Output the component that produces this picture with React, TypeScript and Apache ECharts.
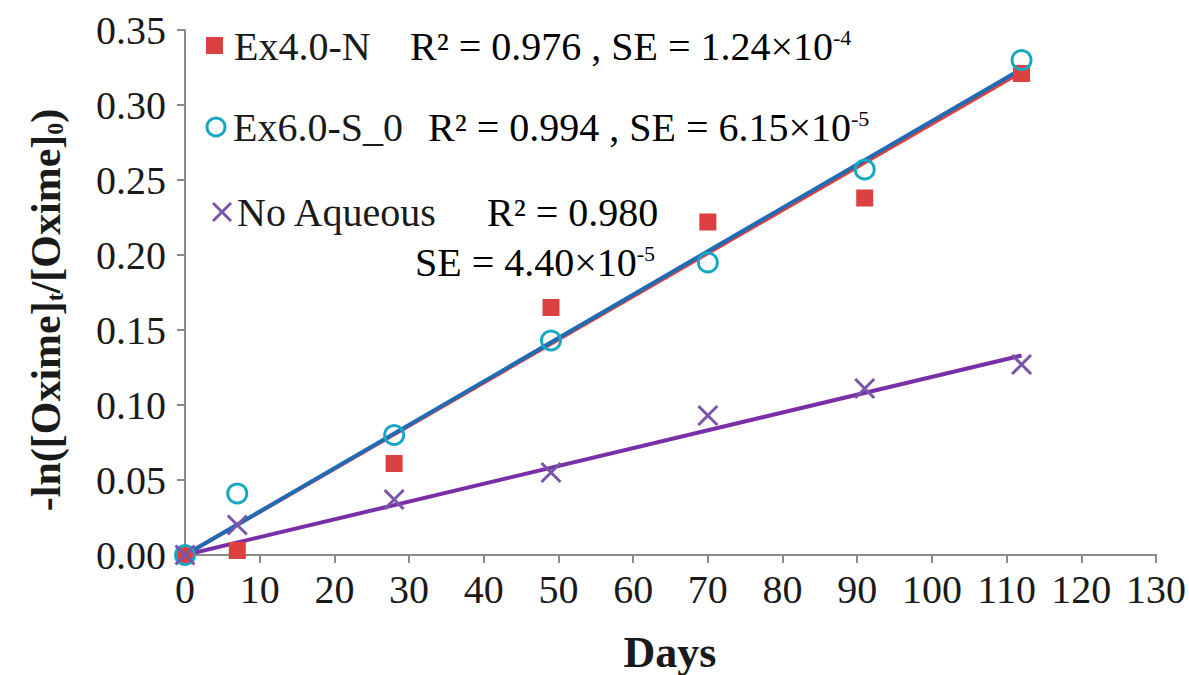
import React, { useEffect, useRef } from "react";
import * as echarts from "echarts";

const xTicks = [0, 130, 10];
const yTicks = [0, 0.35, 0.05];
const days = [0, 7, 28, 49, 70, 91, 112];
const ex4N = [0, 0.003, 0.061, 0.165, 0.222, 0.238, 0.321];
const ex6S0 = [0, 0.041, 0.08, 0.143, 0.195, 0.257, 0.33];
const noAqueous = [0, 0.02, 0.037, 0.055, 0.093, 0.111, 0.127];
const trendDays = [0, 112];
const trendEx4N = [0, 0.322];
const trendEx6S0 = [0, 0.324];
const trendNoAq = [0, 0.133];

const FONT = "'Liberation Serif', 'Times New Roman', serif";
const RED = "#dd4040";
const CYAN = "#19a8c4";
const PURPLE_X = "#7a56a8";
const BLUE = "#1f6cb4";
const PURPLE_L = "#7a2fa6";
const TXT = "#1a1a1a";

const pair = (xs: number[], ys: number[]) => xs.map((x, i) => [x, ys[i]]);

export default function App() {
  const ref = useRef<HTMLDivElement>(null);
  useEffect(() => {
    document.body.style.margin = "0";
    const chart = echarts.init(ref.current!, null, { renderer: "svg" });
    const fs = 40;
    const rich = {
      n: { fontFamily: FONT, fontSize: fs, color: TXT },
      sup: { fontFamily: FONT, fontSize: 22, color: TXT, verticalAlign: "top", padding: [0, 0, 16, 0] },
    };
    chart.setOption({
      animation: false,
      backgroundColor: "#ffffff",
      grid: { left: 185, right: 29, top: 30, bottom: 120, containLabel: false },
      xAxis: {
        type: "value",
        min: xTicks[0],
        max: xTicks[1],
        interval: xTicks[2],
        axisLine: { lineStyle: { color: "#8a8a8a", width: 2 } },
        axisTick: { show: true, length: 8, lineStyle: { color: "#8a8a8a", width: 2 } },
        splitLine: { show: false },
        axisLabel: { color: TXT, fontFamily: FONT, fontSize: 40, margin: 14 },
      },
      yAxis: {
        type: "value",
        min: yTicks[0],
        max: yTicks[1],
        interval: yTicks[2],
        axisLine: { show: true, lineStyle: { color: "#8a8a8a", width: 2 } },
        axisTick: { show: true, length: 8, lineStyle: { color: "#8a8a8a", width: 2 } },
        splitLine: { show: false },
        axisLabel: {
          color: TXT,
          fontFamily: FONT,
          fontSize: 40,
          margin: 19,
          formatter: (v: number) => v.toFixed(2),
        },
      },
      series: [
        {
          type: "line",
          data: pair(trendDays, trendEx4N),
          showSymbol: false,
          lineStyle: { color: RED, width: 4 },
          z: 2,
        },
        {
          type: "line",
          data: pair(trendDays, trendEx6S0),
          showSymbol: false,
          lineStyle: { color: BLUE, width: 4 },
          z: 3,
        },
        {
          type: "line",
          data: pair(trendDays, trendNoAq),
          showSymbol: false,
          lineStyle: { color: PURPLE_L, width: 4 },
          z: 3,
        },
        {
          name: "Ex4.0-N",
          type: "scatter",
          data: pair(days, ex4N),
          symbol: "rect",
          symbolSize: 17,
          itemStyle: { color: RED, opacity: 1 },
          z: 4,
        },
        {
          name: "Ex6.0-S_0",
          type: "scatter",
          data: pair(days, ex6S0),
          symbol: "circle",
          symbolSize: 19,
          itemStyle: { color: "rgba(255,255,255,0)", borderColor: CYAN, borderWidth: 3, opacity: 1 },
          z: 4,
        },
        {
          name: "No Aqueous",
          type: "scatter",
          data: pair(days, noAqueous),
          symbol: "path://M0,0L10,10M10,0L0,10",
          symbolSize: 19,
          itemStyle: { color: "rgba(0,0,0,0)", borderColor: PURPLE_X, borderWidth: 3, opacity: 1 },
          z: 4,
        },
      ],
      graphic: [
        // y axis title
        {
          type: "text",
          x: 46,
          y: 310,
          rotation: Math.PI / 2,
          style: {
            text: "-ln([Oxime]{s|t}/[Oxime]{s|0})",
            fontFamily: FONT,
            fontSize: 42,
            fontWeight: "bold",
            fill: TXT,
            align: "center",
            verticalAlign: "middle",
            rich: {
              s: { fontFamily: FONT, fontSize: 24, fontWeight: "bold", verticalAlign: "bottom", padding: [16, 0, 0, 0] },
            },
          },
        },
        // x axis title
        {
          type: "text",
          x: 670,
          y: 652,
          style: {
            text: "Days",
            fontFamily: FONT,
            fontSize: 44,
            fontWeight: "bold",
            fill: TXT,
            align: "center",
            verticalAlign: "middle",
          },
        },
        // legend markers
        { type: "rect", shape: { x: 206, y: 37, width: 17, height: 17 }, style: { fill: RED } },
        { type: "circle", shape: { cx: 216, cy: 127, r: 9 }, style: { fill: "none", stroke: CYAN, lineWidth: 3 } },
        { type: "line", shape: { x1: 213, y1: 203, x2: 231, y2: 221 }, style: { stroke: PURPLE_X, lineWidth: 3 } },
        { type: "line", shape: { x1: 231, y1: 203, x2: 213, y2: 221 }, style: { stroke: PURPLE_X, lineWidth: 3 } },
        // legend texts
        { type: "text", x: 234, y: 46, style: { text: "Ex4.0-N", fontFamily: FONT, fontSize: fs, fill: TXT, verticalAlign: "middle" } },
        {
          type: "text",
          x: 410,
          y: 46,
          style: { text: "{n|R² = 0.976 , SE = 1.24×10}{sup|-4}", rich, verticalAlign: "middle" },
        },
        { type: "text", x: 233, y: 127, style: { text: "Ex6.0-S_0", fontFamily: FONT, fontSize: fs, fill: TXT, verticalAlign: "middle" } },
        {
          type: "text",
          x: 428,
          y: 127,
          style: { text: "{n|R² = 0.994 , SE = 6.15×10}{sup|-5}", rich, verticalAlign: "middle" },
        },
        { type: "text", x: 237, y: 212, style: { text: "No Aqueous", fontFamily: FONT, fontSize: fs, fill: TXT, verticalAlign: "middle" } },
        {
          type: "text",
          x: 487,
          y: 212,
          style: { text: "{n|R² = 0.980}", rich, verticalAlign: "middle" },
        },
        {
          type: "text",
          x: 415,
          y: 262,
          style: { text: "{n|SE = 4.40×10}{sup|-5}", rich, verticalAlign: "middle" },
        },
      ],
    });
    return () => chart.dispose();
  }, []);
  return <div ref={ref} style={{ width: 1189, height: 675 }} />;
}
